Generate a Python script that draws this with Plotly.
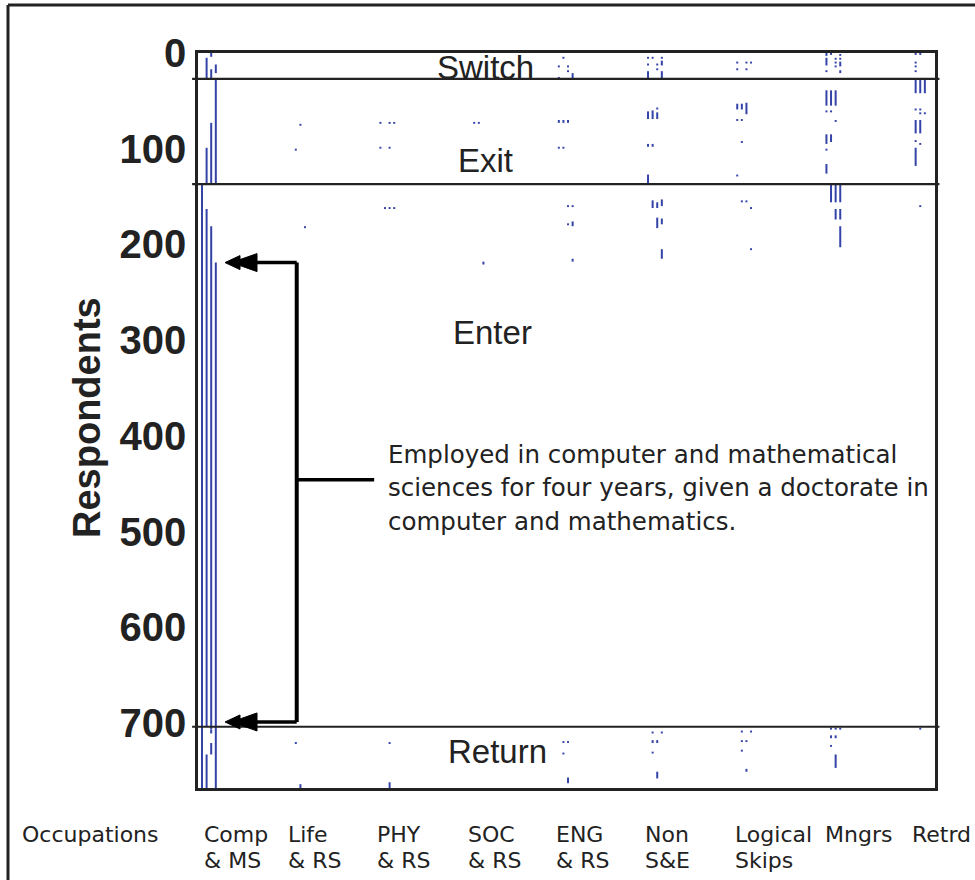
import plotly.graph_objects as go

# ---------------- data ----------------
cat_line1 = ["Comp", "Life", "PHY", "SOC", "ENG", "Non", "Logical", "Mngrs", "Retrd"]
cat_line2 = ["& MS", "& RS", "& RS", "& RS", "& RS", "S&E", "Skips", "", ""]

section_names = ["Switch", "Exit", "Enter", "Return"]
section_bounds = [27, 137, 704]          # respondent rows where the sections change
section_label_rows = [15, 112, 292, 730]

y_ticks = [0, 100, 200, 300, 400, 500, 600, 700]
n_respondents = 768

four_year_start = 219   # first respondent employed in Comp & MS for four waves
four_year_end = 699     # last one

note_lines = ["Employed in computer and mathematical",
              "sciences for four years, given a doctorate in",
              "computer and mathematics."]

# marks per occupation: (survey wave, first respondent, number of respondents)
comp_ms = [(1, 5, 22), (2, 0, 4), (2, 17, 10), (3, 12, 9),
           (1, 99, 38), (2, 73, 64), (3, 27, 110),
           (0, 137, 631), (1, 163, 541), (2, 181, 526), (3, 219, 549),
           (1, 733, 35), (2, 707, 4), (2, 721, 12)]
life_rs = [(2, 74, 2), (1, 100, 2), (3, 181, 2), (1, 720, 2), (2, 764, 4)]
phy_rs = [(0, 72, 2), (2, 72, 2), (3, 72, 2), (0, 98, 2), (2, 98, 2),
          (1, 161, 2), (2, 161, 2), (3, 161, 2), (2, 720, 2), (2, 762, 6)]
soc_rs = [(1, 72, 2), (2, 72, 2), (3, 218, 3)]
eng_rs = [(1, 4, 2), (0, 13, 2), (2, 13, 2), (2, 18, 2), (0, 25, 2), (3, 21, 6),
          (0, 70, 3), (1, 70, 3), (2, 70, 3), (0, 98, 2), (1, 98, 2),
          (2, 159, 2), (3, 159, 2), (2, 178, 2), (3, 176, 5), (3, 215, 3),
          (1, 719, 2), (2, 719, 2), (1, 731, 2), (2, 757, 6)]
non_se = [(0, 4, 2), (1, 4, 2), (3, 4, 2), (0, 11, 2), (2, 11, 2), (3, 8, 5),
          (2, 16, 2), (0, 19, 8), (3, 19, 8),
          (0, 61, 8), (1, 60, 9), (2, 57, 2), (2, 62, 7), (0, 95, 3), (1, 95, 3),
          (0, 127, 10),
          (1, 154, 8), (2, 156, 6), (3, 153, 7), (2, 172, 11), (3, 173, 6), (3, 205, 10),
          (1, 709, 2), (3, 709, 2), (1, 718, 3), (2, 718, 3), (1, 730, 2), (2, 751, 7)]
logical_skips = [(0, 9, 2), (2, 9, 2), (3, 9, 2), (0, 16, 2), (2, 16, 2),
                 (0, 53, 6), (1, 53, 6), (2, 52, 12), (0, 69, 2), (1, 69, 2),
                 (1, 92, 2), (0, 127, 2),
                 (1, 154, 2), (2, 154, 2), (3, 161, 2), (3, 204, 2),
                 (1, 708, 2), (3, 708, 2), (1, 718, 2), (2, 718, 2), (1, 728, 2), (2, 748, 3)]
mngrs = [(0, 0, 3), (0, 5, 8), (0, 18, 2), (1, 0, 2), (2, 5, 2), (2, 9, 2), (2, 13, 2),
         (3, 1, 2), (3, 5, 2), (3, 9, 5), (3, 18, 3),
         (0, 39, 16), (1, 39, 16), (2, 39, 16), (0, 60, 2), (1, 60, 2), (2, 70, 2),
         (0, 85, 10), (1, 85, 8), (0, 100, 2), (0, 116, 10),
         (1, 137, 19), (2, 137, 19), (3, 137, 19), (2, 163, 11), (3, 163, 11), (3, 181, 22),
         (1, 705, 2), (2, 705, 2), (3, 705, 2), (1, 713, 3), (2, 713, 3), (1, 723, 2), (2, 733, 14)]
retrd = [(0, 0, 2), (1, 0, 2), (0, 9, 2), (0, 13, 2), (0, 18, 2),
         (0, 27, 15), (1, 27, 15), (2, 27, 15), (0, 58, 2), (1, 58, 2), (1, 62, 2), (2, 62, 2),
         (0, 70, 14), (1, 70, 14), (0, 91, 2), (1, 94, 2), (0, 99, 19),
         (1, 159, 2),
         (1, 705, 2)]

marks_by_cat = [comp_ms, life_rs, phy_rs, soc_rs, eng_rs, non_se, logical_skips, mngrs, retrd]

# ---------------- layout constants ----------------
WAVE_STEP = 0.0516
X_MIN, X_MAX = -0.0448, 8.217
BLUE = "#3343a8"
INK = "#222222"
W, H = 975, 880
ML, MR, MT, MB = 198, 40, 53, 92

xs, ys = [], []
for ci, marks in enumerate(marks_by_cat):
    for wave, start, count in marks:
        x = ci + wave * WAVE_STEP
        xs += [x, x, None]
        ys += [start, start + count, None]

fig = go.Figure()
fig.add_trace(go.Scatter(x=xs, y=ys, mode="lines", line=dict(color=BLUE, width=2),
                         hoverinfo="skip", showlegend=False))

fig.update_layout(
    width=W, height=H, autosize=False,
    margin=dict(l=ML, r=MR, t=MT, b=MB, pad=0),
    paper_bgcolor="white", plot_bgcolor="white",
    showlegend=False,
    xaxis=dict(range=[X_MIN, X_MAX], showgrid=False, zeroline=False, showticklabels=False,
               ticks="", showline=True, linecolor=INK, linewidth=2.5, mirror=True),
    yaxis=dict(range=[n_respondents, 0], showgrid=False, zeroline=False,
               tickvals=y_ticks, ticktext=[str(v) for v in y_ticks], ticks="",
               ticklabelstandoff=1,
               tickfont=dict(family="Liberation Sans", size=40, color=INK, weight="bold"),
               showline=True, linecolor=INK, linewidth=2.5, mirror=True),
)

shapes = []
# section dividers
for b in section_bounds:
    shapes.append(dict(type="line", xref="paper", yref="y", x0=-0.008, x1=1.006, y0=b, y1=b,
                       line=dict(color=INK, width=2.2)))

# bracket with arrows
BRACKET_X = 1.062
TIP_X = 0.258
CALLOUT_X = 1.93
CALLOUT_Y = 446
shapes.append(dict(type="line", xref="x", yref="y", x0=BRACKET_X, x1=BRACKET_X,
                   y0=four_year_start, y1=four_year_end, line=dict(color="black", width=4)))
for yy in (four_year_start, four_year_end):
    shapes.append(dict(type="line", xref="x", yref="y", x0=TIP_X + 0.3, x1=BRACKET_X,
                       y0=yy, y1=yy, line=dict(color="black", width=3.5)))
    shapes.append(dict(type="path", xref="x", yref="y", xsizemode="pixel", ysizemode="pixel",
                       xanchor=TIP_X, yanchor=yy,
                       path="M0,0 L15,-7 L15,-3 L32,-9 L32,9 L15,3 L15,7 Z",
                       fillcolor="black", line=dict(color="black", width=1)))
shapes.append(dict(type="line", xref="x", yref="y", x0=BRACKET_X, x1=CALLOUT_X,
                   y0=CALLOUT_Y, y1=CALLOUT_Y, line=dict(color="black", width=3.5)))

# outer picture frame (top and left edges)
fx0 = (8 - ML) / (W - ML - MR)
fy1 = (H - MB - 5) / (H - MT - MB)
shapes.append(dict(type="line", xref="paper", yref="paper", x0=fx0, x1=1.08, y0=fy1, y1=fy1,
                   line=dict(color=INK, width=3)))
shapes.append(dict(type="line", xref="paper", yref="paper", x0=fx0, x1=fx0, y0=fy1, y1=-0.2,
                   line=dict(color=INK, width=3)))
fig.update_layout(shapes=shapes)

ann = []
sec_x = [3.178, 3.173, 3.251, 3.313]
for name, row, sx in zip(section_names, section_label_rows, sec_x):
    ann.append(dict(text=name, x=sx, y=row, xref="x", yref="y", showarrow=False,
                    xanchor="center", yanchor="middle",
                    font=dict(family="Liberation Sans", size=33, color=INK)))

note_rows = [419, 454.5, 490]
for line, row in zip(note_lines, note_rows):
    ann.append(dict(text=line, x=2.065, y=row, xref="x", yref="y", showarrow=False,
                    xanchor="left", yanchor="middle",
                    font=dict(family="DejaVu Sans", size=24.5, color=INK)))

# axis title
ann.append(dict(text="Respondents", x=(87 - ML) / (W - ML - MR), y=(H - MB - 418) / (H - MT - MB),
                xref="paper", yref="paper", showarrow=False, textangle=-90,
                xanchor="center", yanchor="middle",
                font=dict(family="Liberation Sans", size=38, color=INK, weight="bold")))

# category labels (two lines each)
label_x = [0.0, 0.945, 1.94, 2.955, 3.945, 4.94, 5.95, 6.96, 7.935]
L1_Y = (H - MB - 834) / (H - MT - MB)
L2_Y = (H - MB - 860) / (H - MT - MB)
lab_font = dict(family="DejaVu Sans", size=22, color=INK)
ann.append(dict(text="Occupations", x=(20 - ML) / (W - ML - MR), y=L1_Y, xref="paper", yref="paper",
                showarrow=False, xanchor="left", yanchor="middle", font=lab_font))
for lx, t1, t2 in zip(label_x, cat_line1, cat_line2):
    ann.append(dict(text=t1, x=lx, y=L1_Y, xref="x", yref="paper", showarrow=False,
                    xanchor="left", yanchor="middle", font=lab_font))
    if t2:
        ann.append(dict(text=t2, x=lx, y=L2_Y, xref="x", yref="paper", showarrow=False,
                        xanchor="left", yanchor="middle", font=lab_font))
fig.update_layout(annotations=ann)

fig.write_html("out.html")
